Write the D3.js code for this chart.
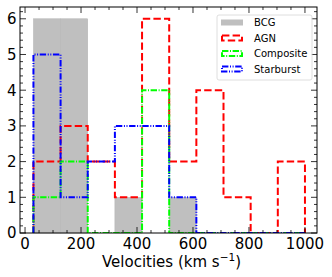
<!DOCTYPE html>
<html>
<head>
<meta charset="utf-8">
<script src="https://cdn.jsdelivr.net/npm/d3@7"></script>
<style>
  html, body { margin: 0; padding: 0; background: #fff; }
  svg { display: block; }
</style>
</head>
<body>
<div id="chart"></div>
<script>
// histogram bin edges (km/s) and counts per bin
const binEdges = [30, 127, 224, 321, 418, 515, 612, 709, 806, 903, 1000];
const bcgCounts = [6, 6, 0, 1, 0, 1, 0, 0, 0, 0];
const agnCounts = [2, 3, 2, 1, 6, 2, 4, 1, 0, 2];
const compositeCounts = [1, 2, 0, 0, 4, 0, 0, 0, 0, 0];
const starburstCounts = [5, 1, 2, 3, 3, 1, 0, 0, 0, 0];
const xTicks = [0, 200, 400, 600, 800, 1000];
const yTicks = [0, 1, 2, 3, 4, 5, 6];

const W = 332, H = 277;
const m = { left: 20, right: 15, top: 7, bottom: 44 };
const font = 'DejaVu Sans, sans-serif';

const svg = d3.select('#chart').append('svg').attr('width', W).attr('height', H);

const x = d3.scaleLinear().domain([-18, 1043]).range([m.left, W - m.right]);
const y = d3.scaleLinear().domain([0, 6.33]).range([H - m.bottom, m.top]);

// BCG filled bars
svg.append('g').selectAll('rect').data(bcgCounts.map((v, i) => ({ v, i })).filter(d => d.v > 0)).join('rect')
  .attr('x', d => x(binEdges[d.i])).attr('y', d => y(d.v))
  .attr('width', d => x(binEdges[d.i + 1]) - x(binEdges[d.i]))
  .attr('height', d => y(0) - y(d.v))
  .attr('fill', '#bfbfbf').attr('stroke', '#b3b3b3').attr('stroke-width', 0.5);

function stepPoints(counts) {
  const pts = [[binEdges[0], 0]];
  counts.forEach((c, i) => { pts.push([binEdges[i], c]); pts.push([binEdges[i + 1], c]); });
  pts.push([binEdges[binEdges.length - 1], 0]);
  return pts;
}
const line = d3.line().x(d => x(d[0])).y(d => y(d[1]));

const series = [
  { name: 'AGN', counts: agnCounts, color: '#ff0000', dash: '7.4,3.2' },
  { name: 'Composite', counts: compositeCounts, color: '#00ff00', dash: '6.4,1.6,1,1.6' },
  { name: 'Starburst', counts: starburstCounts, color: '#0000ff', dash: '6.4,1.6,1,1.6,1,1.6' },
];

svg.append('clipPath').attr('id', 'clip').append('rect')
  .attr('x', m.left).attr('y', m.top).attr('width', W - m.left - m.right).attr('height', H - m.top - m.bottom);

series.forEach(s => {
  svg.append('path').attr('d', line(stepPoints(s.counts)))
    .attr('fill', 'none').attr('stroke', s.color).attr('stroke-width', 2)
    .attr('stroke-dasharray', s.dash).attr('clip-path', 'url(#clip)');
});

// ticks (inward, all sides)
const x0 = m.left, x1 = W - m.right, y0 = H - m.bottom, y1 = m.top;
const ticks = svg.append('g').attr('stroke', '#000').attr('stroke-width', 0.8);
const xMinor = d3.range(0, 1050, 50).filter(v => !xTicks.includes(v));
const yMinor = d3.range(0, 6.3, 0.2).filter(v => Math.abs(v - Math.round(v)) > 0.01);
xTicks.forEach(v => {
  ticks.append('line').attr('x1', x(v)).attr('x2', x(v)).attr('y1', y0).attr('y2', y0 - 6);
  ticks.append('line').attr('x1', x(v)).attr('x2', x(v)).attr('y1', y1).attr('y2', y1 + 6);
});
xMinor.forEach(v => {
  ticks.append('line').attr('x1', x(v)).attr('x2', x(v)).attr('y1', y0).attr('y2', y0 - 3);
  ticks.append('line').attr('x1', x(v)).attr('x2', x(v)).attr('y1', y1).attr('y2', y1 + 3);
});
yTicks.forEach(v => {
  ticks.append('line').attr('x1', x0).attr('x2', x0 + 6).attr('y1', y(v)).attr('y2', y(v));
  ticks.append('line').attr('x1', x1).attr('x2', x1 - 6).attr('y1', y(v)).attr('y2', y(v));
});
yMinor.forEach(v => {
  ticks.append('line').attr('x1', x0).attr('x2', x0 + 3).attr('y1', y(v)).attr('y2', y(v));
  ticks.append('line').attr('x1', x1).attr('x2', x1 - 3).attr('y1', y(v)).attr('y2', y(v));
});

// frame
svg.append('rect').attr('x', x0).attr('y', y1).attr('width', x1 - x0).attr('height', y0 - y1)
  .attr('fill', 'none').attr('stroke', '#000').attr('stroke-width', 1);

// tick labels
svg.append('g').selectAll('text').data(xTicks).join('text')
  .attr('x', d => x(d)).attr('y', y0 + 16).attr('text-anchor', 'middle')
  .attr('font-family', font).attr('font-size', 15).attr('fill', '#000').text(d => d);
svg.append('g').selectAll('text').data(yTicks).join('text')
  .attr('x', x0 - 3.5).attr('y', d => y(d)).attr('dy', '0.36em').attr('text-anchor', 'end')
  .attr('font-family', font).attr('font-size', 15).attr('fill', '#000').text(d => d);

// axis label
const xl = svg.append('text').attr('x', (x0 + x1) / 2 + 3).attr('y', 267).attr('text-anchor', 'middle')
  .attr('font-family', font).attr('font-size', 15).attr('fill', '#000');
xl.append('tspan').text('Velocities (km s');
xl.append('tspan').attr('dy', -6).attr('font-size', 10.5).text('−1');
xl.append('tspan').attr('dy', 6).text(')');

// legend
const lg = svg.append('g').attr('transform', 'translate(217,15)');
lg.append('rect').attr('width', 95).attr('height', 65).attr('rx', 2)
  .attr('fill', '#fff').attr('fill-opacity', 0.8).attr('stroke', '#d6d6d6').attr('stroke-width', 0.8);
const items = [{ name: 'BCG', fill: true }].concat(series);
items.forEach((d, i) => {
  const row = lg.append('g').attr('transform', `translate(4,${7.5 + i * 15.5})`);
  if (d.fill) {
    row.append('rect').attr('x', 0).attr('y', -3).attr('width', 22).attr('height', 6).attr('fill', '#bfbfbf');
  } else {
    row.append('rect').attr('x', 1).attr('y', -2.5).attr('width', 20).attr('height', 5)
      .attr('fill', 'none').attr('stroke', d.color).attr('stroke-width', 2).attr('stroke-dasharray', d.dash);
  }
  row.append('text').attr('x', 33).attr('y', 0).attr('dy', '0.36em')
    .attr('font-family', font).attr('font-size', 10).attr('fill', '#000').text(d.name);
});
</script>
</body>
</html>
